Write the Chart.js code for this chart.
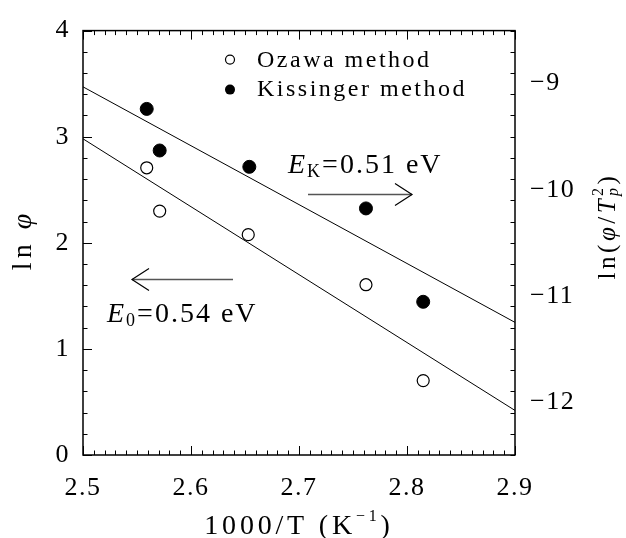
<!DOCTYPE html>
<html>
<head>
<meta charset="utf-8">
<script src="https://cdn.jsdelivr.net/npm/chart.js@4.4.1/dist/chart.umd.min.js"></script>
<style>
  html, body { margin: 0; padding: 0; background: #fff; }
  canvas { display: block; }
</style>
</head>
<body>
<canvas id="arrheniusChart" width="626" height="538"></canvas>
<script>
// values
const xOzawa = [2.559, 2.571, 2.653, 2.762, 2.815];
const lnPhi = [2.707, 2.299, 2.077, 1.605, 0.701];
const xKissinger = [2.559, 2.571, 2.654, 2.762, 2.815];
const lnPhiTp2 = [-9.238, -9.630, -9.784, -10.176, -11.056];

// fitted lines (end points at the frame edges)
const fitX = [2.5, 2.9];
const fitOzawa = [2.98, 0.42];
const fitKissinger = [-9.03, -11.25];

const xTicks = [2.5, 2.6, 2.7, 2.8, 2.9];
const yTicks = [0, 1, 2, 3, 4];
const y2Ticks = [-12, -11, -10, -9];

const FONT = '"Liberation Serif", "DejaVu Serif", serif';

function fontOf(p) {
    return (p.italic ? 'italic ' : '') + p.size + 'px ' + FONT;
}

// draws a run of text pieces (for sub/superscripts)
function richText(ctx, pieces, x, y, ls, align) {
    const widths = pieces.map(p => {
        ctx.font = fontOf(p);
        ctx.letterSpacing = ls + 'px';
        return p.noAdvance ? 0 : ctx.measureText(p.t).width;
    });
    let cx = x;
    if (align === 'center') cx -= widths.reduce((s, w) => s + w, 0) / 2;
    pieces.forEach((p, i) => {
        ctx.font = fontOf(p);
        ctx.letterSpacing = ls + 'px';
        ctx.fillText(p.t, cx, y + (p.dy || 0));
        cx += widths[i];
    });
}

function line(ctx, x1, y1, x2, y2) {
    ctx.beginPath();
    ctx.moveTo(x1, y1);
    ctx.lineTo(x2, y2);
    ctx.stroke();
}

function arrow(ctx, x1, x2, y, dir) {
    ctx.strokeStyle = '#555';
    ctx.lineWidth = 1.5;
    line(ctx, x1, y, x2, y);
    const tip = dir > 0 ? x2 : x1;
    ctx.strokeStyle = '#000';
    ctx.lineWidth = 1.2;
    ctx.beginPath();
    ctx.moveTo(tip - dir * 17, y - 11);
    ctx.lineTo(tip, y);
    ctx.lineTo(tip - dir * 17, y + 11);
    ctx.stroke();
}

const decorPlugin = {
    id: 'decor',
    beforeDraw(chart) {
        chart.ctx.letterSpacing = '1.5px';
    },
    afterDraw(chart) {
        const { ctx, chartArea: a, scales } = chart;
        ctx.save();
        ctx.letterSpacing = '0px';
        ctx.strokeStyle = '#000';
        ctx.fillStyle = '#000';

        // frame
        ctx.lineWidth = 1.5;
        ctx.strokeRect(a.left, a.top, a.right - a.left, a.bottom - a.top);

        // inward ticks
        ctx.lineWidth = 1;
        for (let i = 0; i <= 40; i++) {
            const px = Math.round(scales.x.getPixelForValue(2.5 + i * 0.01)) + 0.5;
            const len = i % 10 === 0 ? 9 : 4.5;
            line(ctx, px, a.bottom, px, a.bottom - len);
            line(ctx, px, a.top, px, a.top + len);
        }
        for (let i = 0; i <= 20; i++) {
            const py = Math.round(scales.y.getPixelForValue(i * 0.2)) + 0.5;
            const len = i % 5 === 0 ? 9 : 4.5;
            line(ctx, a.left, py, a.left + len, py);
        }
        for (let i = 0; i <= 20; i++) {
            const v = -12.5 + i * 0.2;
            const py = Math.round(scales.y2.getPixelForValue(v)) + 0.5;
            const len = Math.abs(v - Math.round(v)) < 1e-6 ? 9 : 4.5;
            line(ctx, a.right, py, a.right - len, py);
        }

        // legend
        ctx.lineWidth = 1.2;
        ctx.beginPath();
        ctx.arc(a.left + 147, a.top + 29, 4.5, 0, Math.PI * 2);
        ctx.stroke();
        ctx.beginPath();
        ctx.arc(a.left + 147, a.top + 59, 5, 0, Math.PI * 2);
        ctx.fill();
        ctx.textAlign = 'left';
        ctx.textBaseline = 'alphabetic';
        richText(ctx, [{ t: 'Ozawa method', size: 24 }], a.left + 174, a.top + 36, 2.5);
        richText(ctx, [{ t: 'Kissinger method', size: 24 }], a.left + 174, a.top + 65, 2.5);

        // activation energies
        richText(ctx, [
            { t: 'E', size: 28, italic: true },
            { t: 'K', size: 18, dy: 4 },
            { t: '=0.51 eV', size: 28 }
        ], a.left + 205, a.top + 142, 2);
        arrow(ctx, a.left + 225, a.left + 329, a.top + 164, 1);

        richText(ctx, [
            { t: 'E', size: 28, italic: true },
            { t: '0', size: 18, dy: 4 },
            { t: '=0.54 eV', size: 28 }
        ], a.left + 24, a.top + 291, 2);
        arrow(ctx, a.left + 49, a.left + 150, a.top + 249, -1);

        // axis titles
        richText(ctx, [
            { t: '1000/T (K', size: 28 },
            { t: '\u22121', size: 16, dy: -13 },
            { t: ')', size: 28 }
        ], (a.left + a.right) / 2, 534, 3.8, 'center');

        ctx.save();
        ctx.translate(31, 240);
        ctx.rotate(-Math.PI / 2);
        richText(ctx, [
            { t: 'ln ', size: 28 },
            { t: '\u03c6', size: 28, italic: true }
        ], 0, 0, 4, 'center');
        ctx.restore();

        ctx.save();
        ctx.translate(615, 226);
        ctx.rotate(-Math.PI / 2);
        richText(ctx, [
            { t: 'ln(', size: 25 },
            { t: '\u03c6', size: 25, italic: true },
            { t: '/', size: 25 },
            { t: 'T', size: 25, italic: true },
            { t: '2', size: 16, dy: -12, noAdvance: true },
            { t: 'p', size: 16, italic: true, dy: 3 },
            { t: ')', size: 25 }
        ], 0, 0, 3.5, 'center');
        ctx.restore();

        ctx.restore();
    }
};

const tickFont = { family: FONT, size: 26 };

const ctx = document.getElementById('arrheniusChart').getContext('2d');
const arrheniusChart = new Chart(ctx, {
    type: 'scatter',
    data: {
        datasets: [
            {
                label: 'Ozawa fit',
                type: 'line',
                data: fitX.map((x, i) => ({ x: x, y: fitOzawa[i] })),
                yAxisID: 'y',
                borderColor: '#000',
                borderWidth: 1,
                pointRadius: 0,
                fill: false,
            },
            {
                label: 'Kissinger fit',
                type: 'line',
                data: fitX.map((x, i) => ({ x: x, y: fitKissinger[i] })),
                yAxisID: 'y2',
                borderColor: '#000',
                borderWidth: 1,
                pointRadius: 0,
                fill: false,
            },
            {
                label: 'Ozawa method',
                data: xOzawa.map((x, i) => ({ x: x, y: lnPhi[i] })),
                yAxisID: 'y',
                pointStyle: 'circle',
                pointRadius: 6,
                backgroundColor: '#fff',
                borderColor: '#000',
                borderWidth: 1.2,
            },
            {
                label: 'Kissinger method',
                data: xKissinger.map((x, i) => ({ x: x, y: lnPhiTp2[i] })),
                yAxisID: 'y2',
                pointStyle: 'circle',
                pointRadius: 6.5,
                backgroundColor: '#000',
                borderColor: '#000',
                borderWidth: 1,
            },
        ],
    },
    options: {
        responsive: false,
        animation: false,
        layout: { padding: { top: 23 } },
        plugins: {
            legend: { display: false },
            tooltip: { enabled: false },
        },
        scales: {
            x: {
                type: 'linear',
                position: 'bottom',
                min: 2.5,
                max: 2.9,
                afterBuildTicks: s => { s.ticks = xTicks.map(v => ({ value: v })); },
                afterFit: s => { s.height = 83; },
                grid: { display: false, drawTicks: false },
                border: { display: false },
                ticks: {
                    padding: 18,
                    autoSkip: false,
                    maxRotation: 0,
                    color: '#000',
                    font: tickFont,
                    callback: v => v.toFixed(1),
                },
            },
            y: {
                position: 'left',
                min: 0,
                max: 4,
                afterBuildTicks: s => { s.ticks = yTicks.map(v => ({ value: v })); },
                afterFit: s => { s.width = 83; },
                grid: { display: false, drawTicks: false },
                border: { display: false },
                ticks: {
                    padding: 13,
                    autoSkip: false,
                    color: '#000',
                    font: tickFont,
                    callback: v => String(v),
                },
            },
            y2: {
                position: 'right',
                min: -12.5,
                max: -8.5,
                afterBuildTicks: s => { s.ticks = y2Ticks.map(v => ({ value: v })); },
                afterFit: s => { s.width = 111; },
                grid: { display: false, drawTicks: false },
                border: { display: false },
                ticks: {
                    padding: 15,
                    autoSkip: false,
                    color: '#000',
                    font: tickFont,
                    callback: v => '\u2212' + Math.abs(v),
                },
            },
        },
    },
    plugins: [decorPlugin],
});
</script>
</body>
</html>
